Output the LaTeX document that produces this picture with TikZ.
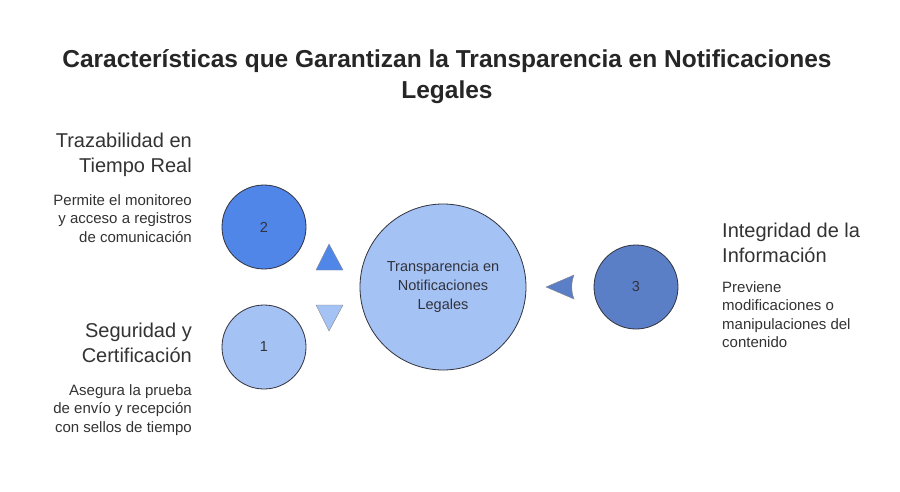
\documentclass[tikz,border=0pt]{standalone}
\usepackage{fontspec}
\setmainfont{Liberation Sans}
\definecolor{darkblue}{RGB}{79,134,232}
\definecolor{lightblue}{RGB}{164,194,244}
\definecolor{midblue}{RGB}{91,127,199}
\definecolor{edgegray}{RGB}{50,50,60}

\begin{document}
\begin{tikzpicture}[x=1pt, y=-1pt,
    bubble/.style={circle, draw=edgegray, line width=0.8pt, inner sep=0pt, font=\fontsize{14.5}{19}\selectfont, text=edgegray},
    marker/.style={draw=edgegray!60, line width=0.4pt},
    heading/.style={font=\fontsize{20}{25}\selectfont, text=black!80, inner sep=0pt},
    desc/.style={font=\fontsize{15}{18.5}\selectfont, text=black!80, inner sep=0pt}
]
\useasboundingbox[fill=white] (0,0) rectangle (900,492);

% Title
\node[font=\fontsize{24.5}{31}\bfseries\selectfont, align=center, text=black!85] (title) at (447,77)
    {Características que Garantizan la Transparencia en Notificaciones\\Legales};

% Circles
\node[bubble, fill=lightblue, minimum size=166pt, align=center] (hub) at (443,287)
    {Transparencia en\\Notificaciones\\Legales};
\node[bubble, fill=darkblue, minimum size=84pt] (two) at (264,227) {2};
\node[bubble, fill=lightblue, minimum size=84pt] (one) at (264,347) {1};
\node[bubble, fill=midblue, minimum size=84pt] (three) at (636,287) {3};

% Pointers
\draw[marker, fill=darkblue] (329,244) -- (343,270) -- (316,270) -- cycle;
\draw[marker, fill=lightblue] (316,305) -- (343,305) -- (329,331) -- cycle;
\draw[marker, fill=midblue] (546,287) -- (574,275) .. controls (571,283) and (571,291) .. (574,299) -- cycle;

% Left texts
\node[heading, align=right, anchor=north east] (trazT) at (192,133) {Trazabilidad en\\Tiempo Real};
\node[desc, align=right, anchor=north east] (trazD) at (192,194) {Permite el monitoreo\\y acceso a registros\\de comunicación};
\node[heading, align=right, anchor=north east] (segT) at (192,323) {Seguridad y\\Certificación};
\node[desc, align=right, anchor=north east] (segD) at (192,384) {Asegura la prueba\\de envío y recepción\\con sellos de tiempo};

% Right texts
\node[heading, align=left, anchor=north west] (intT) at (722,223) {Integridad de la\\Información};
\node[desc, align=left, anchor=north west] (intD) at (722,281) {Previene\\modificaciones o\\manipulaciones del\\contenido};
\end{tikzpicture}
\end{document}
